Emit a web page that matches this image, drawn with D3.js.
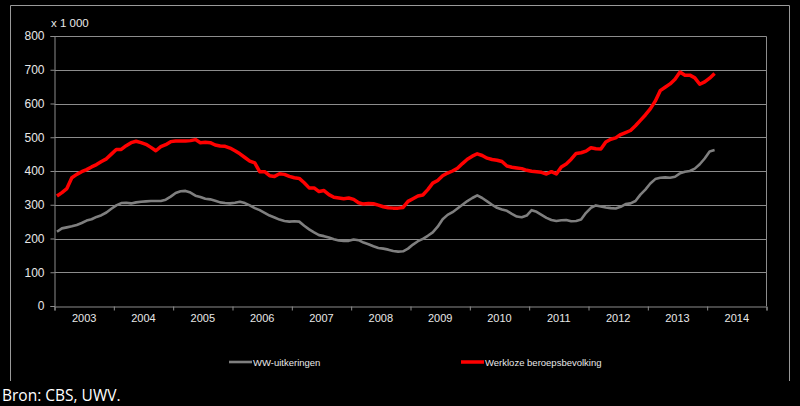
<!DOCTYPE html>
<html><head><meta charset="utf-8">
<script src="https://cdn.jsdelivr.net/npm/d3@7"></script>
<style>
html,body{margin:0;padding:0;background:#000;}
svg{display:block;}
</style></head>
<body>
<svg id="chart" width="800" height="406"></svg>
<script>
// Monthly data, Jan 2003 onwards (x 1 000)
const years = ["2003","2004","2005","2006","2007","2008","2009","2010","2011","2012","2013","2014"];
const yTicks = [0,100,200,300,400,500,600,700,800];
const werkloze = [326,336,348,380,390,398,404,412,419,428,436,450,
 464,464,475,484,488,484,479,470,460,472,478,487,
 489,489,489,490,493,484,485,484,477,474,473,468,
 460,451,440,429,424,398,398,386,384,392,390,384,
 380,378,365,350,350,339,342,330,322,320,318,320,
 316,306,302,304,303,299,294,291,290,290,292,310,
 318,326,329,345,364,372,386,394,400,408,422,435,
 444,451,446,438,434,432,428,415,411,409,407,402,
 399,398,396,391,398,391,412,421,435,452,454,459,
 469,466,465,486,494,498,508,514,520,534,550,566,
 584,607,638,648,658,672,693,684,684,676,657,664,
 675,689];
const ww = [220,230,233,236,240,246,253,257,264,269,277,288,
 298,305,306,304,307,309,310,311,311,311,315,324,
 335,340,341,336,327,323,318,316,312,307,305,304,
 306,309,305,298,290,284,276,268,262,256,252,250,
 251,250,238,227,218,210,207,203,198,194,193,193,
 197,195,188,183,177,172,170,167,163,161,162,170,
 182,192,199,208,218,235,257,270,278,289,300,311,
 320,328,320,310,300,291,286,282,273,265,263,268,
 284,279,270,261,255,252,254,255,251,252,256,276,
 291,298,295,292,290,289,294,302,304,311,330,345,
 363,376,380,381,380,383,393,398,400,407,420,437,
 458,462];
const seriesNames = ["WW-uitkeringen","Werkloze beroepsbevolking"];

const svg = d3.select("#chart");
const font = "'Liberation Sans', Arial, sans-serif";
const txt = "#e8e8e8";
const gridCol = "#8c8c8c";

// outer frame
svg.append("path").attr("d","M10.5,381 V5.5 H789.5 V381")
  .attr("fill","none").attr("stroke","#9a9a9a").attr("stroke-width",1);

const L = 54.5, R = 766.5, T = 36, B = 306;
const x = d3.scaleLinear().domain([0, years.length*12]).range([L, R]);
const y = d3.scaleLinear().domain([0, 800]).range([B, T]);

// gridlines
svg.append("g").selectAll("line").data(yTicks.filter(d=>d>0)).join("line")
  .attr("x1",L).attr("x2",R)
  .attr("y1",d=>Math.round(y(d))+0.5).attr("y2",d=>Math.round(y(d))+0.5)
  .attr("stroke",gridCol).attr("stroke-width",1);
// plot right border
svg.append("line").attr("x1",R).attr("x2",R).attr("y1",y(800)+0.5).attr("y2",B)
  .attr("stroke",gridCol);

// y axis
const yAxis = svg.append("g").attr("transform",`translate(${L},0)`)
  .call(d3.axisLeft(y).tickValues(yTicks).tickSize(4).tickPadding(6));
yAxis.select(".domain").attr("stroke",gridCol);
yAxis.selectAll(".tick line").attr("stroke",gridCol);
yAxis.selectAll("text").attr("fill",txt).attr("font-family",font).attr("font-size",12);

// x axis
const xAxis = svg.append("g").attr("transform",`translate(0,${B+0.5})`)
  .call(d3.axisBottom(x).tickValues(d3.range(0, years.length*12+1, 12)).tickSize(4).tickFormat(""));
xAxis.select(".domain").attr("stroke",gridCol);
xAxis.selectAll(".tick line").attr("stroke",gridCol);
svg.append("g").selectAll("text").data(years).join("text")
  .attr("x",(d,i)=>x(i*12+6)).attr("y",B+16)
  .attr("text-anchor","middle").attr("fill",txt)
  .attr("font-family",font).attr("font-size",11).text(d=>d);

// unit label
svg.append("text").attr("x",51).attr("y",27).attr("fill",txt)
  .attr("font-family",font).attr("font-size",11.5).text("x 1 000");

const line = d3.line().x((d,i)=>x(i+0.5)).y(d=>y(d)).curve(d3.curveLinear);
svg.append("path").datum(ww).attr("d",line).attr("fill","none")
  .attr("stroke","#7f7f7f").attr("stroke-width",2.6).attr("stroke-linejoin","round");
svg.append("path").datum(werkloze).attr("d",line).attr("fill","none")
  .attr("stroke","#ff0000").attr("stroke-width",3.5).attr("stroke-linejoin","round");

// legend
const legend = [{name:seriesNames[0],col:"#7f7f7f",x:229,w:2.6},{name:seriesNames[1],col:"#ff0000",x:461,w:3.5}];
const lg = svg.append("g");
lg.selectAll("line").data(legend).join("line")
  .attr("x1",d=>d.x).attr("x2",d=>d.x+23).attr("y1",362).attr("y2",362)
  .attr("stroke",d=>d.col).attr("stroke-width",d=>d.w);
lg.selectAll("text").data(legend).join("text")
  .attr("x",d=>d.x+24).attr("y",365.5).attr("fill",txt)
  .attr("font-family",font).attr("font-size",9.5).text(d=>d.name);

// source
svg.append("text").attr("x",2).attr("y",401).attr("fill","#ffffff")
  .attr("font-family","'Open Sans', 'Noto Sans', sans-serif").attr("font-size",15.5)
  .text("Bron: CBS, UWV.");
</script>
</body></html>
